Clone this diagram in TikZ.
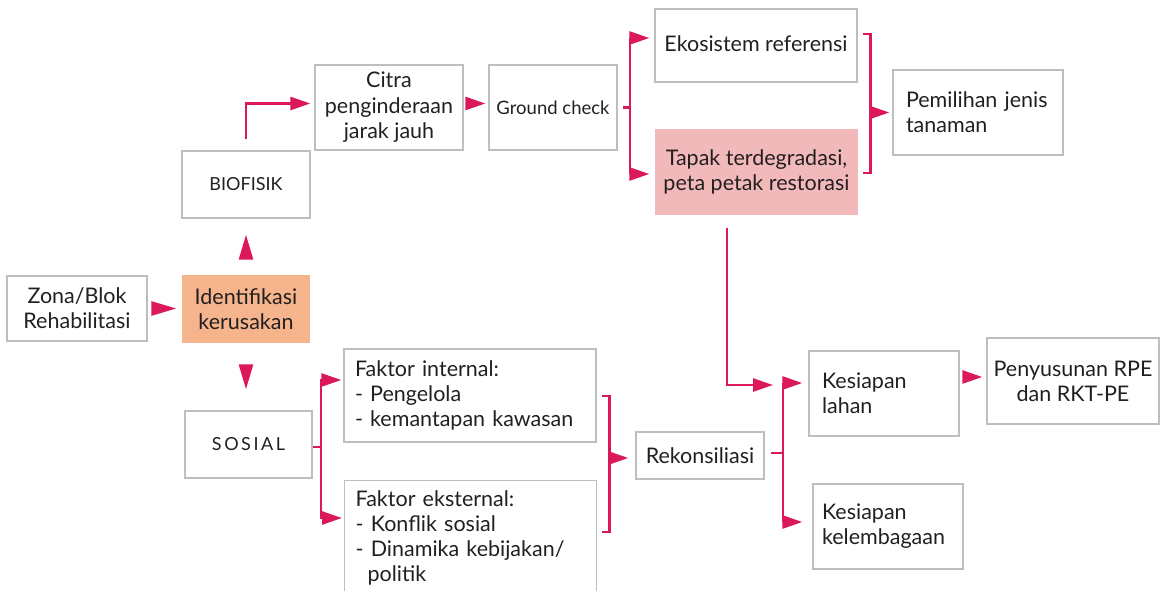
\documentclass[tikz,border=0pt]{standalone}
\usepackage{fontspec}
\setmainfont{Lato}
\newfontfamily\spacedfont[LetterSpace=14]{Lato}
\usetikzlibrary{arrows.meta,calc}
\definecolor{crim}{RGB}{218,24,90}
\definecolor{boxgray}{RGB}{190,190,190}
\definecolor{orangefill}{RGB}{245,180,139}
\definecolor{pinkfill}{RGB}{242,185,187}
\definecolor{txt}{RGB}{35,31,32}
\begin{document}
\begin{tikzpicture}[x=1pt,y=-1pt,
 box/.style={draw=boxgray,line width=1.3pt,inner sep=0pt,align=center,text=txt,font=\fontsize{21.5}{25}\selectfont},
 lbox/.style={box,align=left},
 line/.style={draw=crim,line width=2.6pt},
 tipA/.style={line,-{Triangle[length=25pt,width=14pt]}},
 tipB/.style={line,-{Triangle[length=20pt,width=13pt]}},
]
\clip (0,0) rectangle (1162,591);
% nodes
\node[box,minimum width=140,minimum height=65] (zona) at (77,308.5) {Zona/Blok\\Rehabilitasi};
\node[box,draw=none,fill=orangefill,minimum width=128,minimum height=68] (ident) at (246,309) {Identifikasi\\kerusakan};
\node[box,minimum width=128,minimum height=67,font=\fontsize{18}{22}\selectfont] (bio) at (246,184.5) {BIOFISIK};
\node[box,minimum width=127,minimum height=67,font=\spacedfont\fontsize{18}{22}\selectfont] (sos) at (248.5,444.5) {SOSIAL};
\node[box,minimum width=148,minimum height=85,font=\fontsize{21.5}{25.5}\selectfont] (citra) at (389,107.5) {Citra\\penginderaan\\jarak jauh};
\node[box,minimum width=128,minimum height=85,font=\fontsize{18.5}{22}\selectfont] (gc) at (553,107.5) {Ground check};
\node[box,minimum width=202,minimum height=73] (eko) at (756,45.5) {Ekosistem referensi\rule[-3pt]{0pt}{3pt}};
\node[box,draw=none,fill=pinkfill,minimum width=203,minimum height=86] (tapak) at (756.5,172) {Tapak terdegradasi,\\peta petak restorasi};
\node[lbox,text width=144,inner xsep=13,minimum height=85] (pem) at (978,112.5) {Pemilihan~jenis\\tanaman};
\node[lbox,text width=230,inner xsep=11,minimum height=93] (fi) at (470,395.5) {Faktor~internal:\\-~Pengelola\\-~kemantapan~kawasan};
\node[lbox,text width=230,inner xsep=11,inner ysep=10,anchor=north west] (fe) at (344,480) {Faktor~eksternal:\\-~Konflik~sosial\\-~Dinamika~kebijakan/\\\hspace*{12pt}politik\rule[-14pt]{0pt}{14pt}};
\node[box,minimum width=128,minimum height=47] (rek) at (700,455.5) {Rekonsiliasi};
\node[lbox,text width=124,inner xsep=13,minimum height=85] (lahan) at (884,393.5) {Kesiapan\\lahan};
\node[lbox,text width=132,inner xsep=9,minimum height=85] (kel) at (888,526.5) {Kesiapan\\kelembagaan};
\node[box,minimum width=172,minimum height=86] (pen) at (1073,381) {Penyusunan RPE\\dan RKT-PE};
% junction coordinates
\coordinate (gcb) at (630,107.5);
\coordinate (rb) at (870,112.5);
\coordinate (sb) at (321,447);
\coordinate (fb) at (609,458);
\coordinate (kb) at (783,453);
\coordinate (kin) at (773,385);
% connectors
\draw[tipA,shorten <=5pt,shorten >=5pt] (zona.east) -- (zona.east -| ident.west);
\draw[tipA,shorten <=16pt,shorten >=16pt] (ident.north) -- (bio.south);
\draw[tipA,shorten <=22pt,shorten >=21pt] (ident.south) -- (ident.south |- sos.north);
\draw[tipB,shorten <=11pt,shorten >=4pt] (bio.north) |- ($(citra.west)+(0,-4)$);
\draw[tipB,shorten <=2pt,shorten >=3pt] ($(citra.east)+(0,-4)$) -- ($(gc.west)+(0,-4)$);
\draw[line] ($(gc.east)+(5,0)$) -- (gcb);
\draw[tipB] (gcb) |- ($(eko.west)+(-5,-7.5)$);
\draw[tipB] (gcb) |- ($(tapak.west)+(-5,2)$);
\draw[line] ($(eko.east)+(5,-11.5)$) -- ++(8,0) |- ($(tapak.east)+(4,1)$);
\draw[tipB] (rb) -- ($(pem.west)+(-3,0)$);
\draw[tipB] ($(tapak.south)+(-29.5,12)$) |- (kin);
\draw[line] ($(rek.east)+(6,-2.5)$) -- (kb);
\draw[tipB] (kb) |- ($(lahan.west)+(-6,-10.5)$);
\draw[tipB] (kb) |- ($(kel.west)+(-10,-4.5)$);
\draw[tipB,shorten <=3pt,shorten >=4pt] ($(lahan.east |- pen.west)+(0,-4)$) -- ($(pen.west)+(0,-4)$);
\draw[line] ($(sos.east)+(0,2.5)$) -- (sb);
\draw[tipB] (sb) |- ($(fi.west)+(-2,-15.5)$);
\draw[tipB] (sb) |- ($(fe.north west)+(-2,38)$);
\draw[line] ($(fi.east)+(5,0.5)$) -- ++(8,0) |- ($(fe.north east)+(5,52)$);
\draw[tipB] (fb) -- ($(rek.west)+(-7,2.5)$);
\end{tikzpicture}
\end{document}
